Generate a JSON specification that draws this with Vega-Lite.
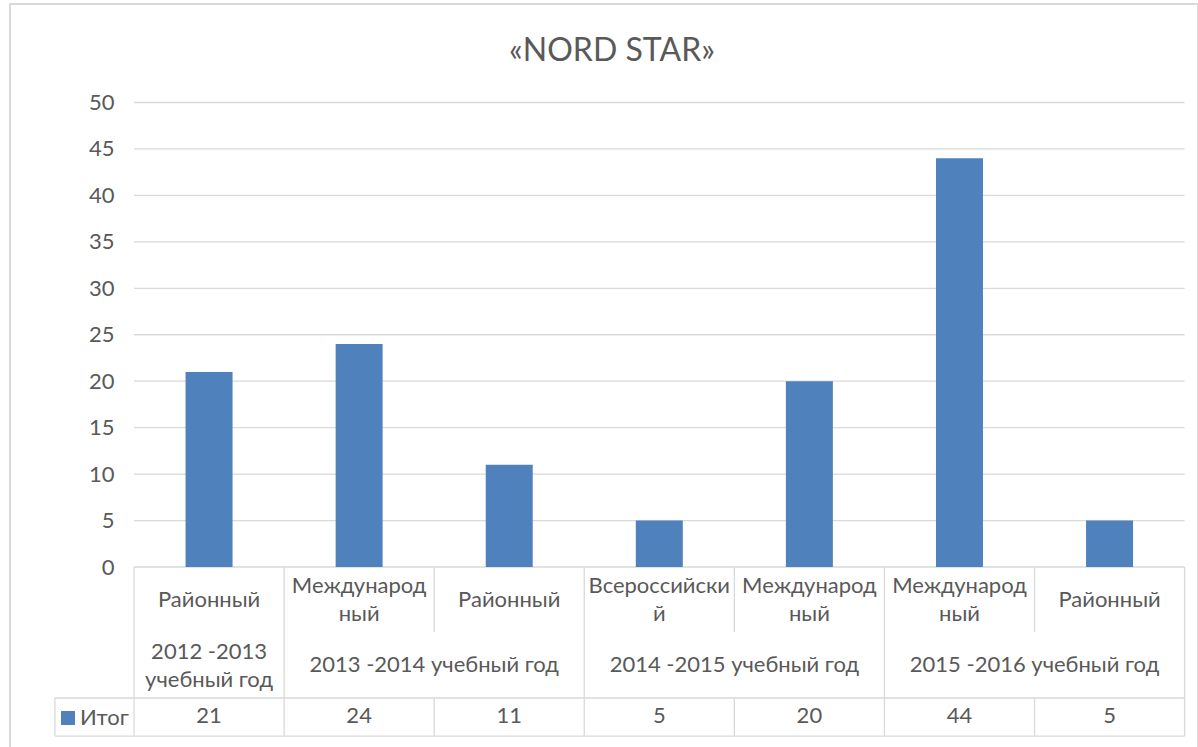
{
  "$schema": "https://vega.github.io/schema/vega-lite/v6.json",
  "width": 1188,
  "height": 745,
  "autosize": {"type": "none"},
  "padding": {"left": 10, "top": 4, "right": 0, "bottom": 0},
  "background": "#ffffff",
  "config": {
    "view": {"stroke": "#d9d9d9", "strokeWidth": 2}
  },
  "title": {
    "text": "«NORD STAR»",
    "font": "Lato",
    "fontSize": 32,
    "fontWeight": "normal",
    "color": "#595959",
    "anchor": "middle",
    "frame": "group",
    "baseline": "middle",
    "offset": -79,
    "dx": 8
  },
  "datasets": {
    "main": [
      {"pos": 1, "cat": "Районный", "value": 21, "year": "2012 -2013\nучебный год", "series": "Итог"},
      {"pos": 2, "cat": "Международ\nный", "value": 24, "year": "2013 -2014 учебный год", "series": "Итог"},
      {"pos": 3, "cat": "Районный", "value": 11, "year": "2013 -2014 учебный год", "series": "Итог"},
      {"pos": 4, "cat": "Всероссийски\nй", "value": 5, "year": "2014 -2015 учебный год", "series": "Итог"},
      {"pos": 5, "cat": "Международ\nный", "value": 20, "year": "2014 -2015 учебный год", "series": "Итог"},
      {"pos": 6, "cat": "Международ\nный", "value": 44, "year": "2015 -2016 учебный год", "series": "Итог"},
      {"pos": 7, "cat": "Районный", "value": 5, "year": "2015 -2016 учебный год", "series": "Итог"}
    ],
    "lines": [
      {"x": 0.5, "x2": 7.5, "y": 5, "y2": 5},
      {"x": 0.5, "x2": 7.5, "y": 10, "y2": 10},
      {"x": 0.5, "x2": 7.5, "y": 15, "y2": 15},
      {"x": 0.5, "x2": 7.5, "y": 20, "y2": 20},
      {"x": 0.5, "x2": 7.5, "y": 25, "y2": 25},
      {"x": 0.5, "x2": 7.5, "y": 30, "y2": 30},
      {"x": 0.5, "x2": 7.5, "y": 35, "y2": 35},
      {"x": 0.5, "x2": 7.5, "y": 40, "y2": 40},
      {"x": 0.5, "x2": 7.5, "y": 45, "y2": 45},
      {"x": 0.5, "x2": 7.5, "y": 50, "y2": 50},
      {"x": 0.5, "x2": 7.5, "y": 0, "y2": 0},
      {"x": -0.027, "x2": 7.5, "y": -14.1, "y2": -14.1},
      {"x": -0.027, "x2": 7.5, "y": -18.2, "y2": -18.2},
      {"x": -0.027, "x2": -0.027, "y": -14.1, "y2": -18.2},
      {"x": 0.5, "x2": 0.5, "y": 0, "y2": -18.2},
      {"x": 1.5, "x2": 1.5, "y": 0, "y2": -18.2},
      {"x": 3.5, "x2": 3.5, "y": 0, "y2": -18.2},
      {"x": 5.5, "x2": 5.5, "y": 0, "y2": -18.2},
      {"x": 7.5, "x2": 7.5, "y": 0, "y2": -18.2},
      {"x": 2.5, "x2": 2.5, "y": 0, "y2": -7.0},
      {"x": 4.5, "x2": 4.5, "y": 0, "y2": -7.0},
      {"x": 6.5, "x2": 6.5, "y": 0, "y2": -7.0},
      {"x": 2.5, "x2": 2.5, "y": -14.1, "y2": -18.2},
      {"x": 4.5, "x2": 4.5, "y": -14.1, "y2": -18.2},
      {"x": 6.5, "x2": 6.5, "y": -14.1, "y2": -18.2}
    ]
  },
  "layer": [
    {
      "data": {"name": "lines"},
      "mark": {"type": "rule", "color": "#d9d9d9", "strokeWidth": 1.3},
      "encoding": {
        "x": {"field": "x", "type": "quantitative", "scale": {"domain": [-0.293, 7.556], "nice": false, "zero": false}, "axis": null},
        "x2": {"field": "x2"},
        "y": {"field": "y", "type": "quantitative", "scale": {"domain": [-19.59, 60.6], "nice": false, "zero": false},
          "axis": {"values": [0, 5, 10, 15, 20, 25, 30, 35, 40, 45, 50], "grid": false, "domain": false, "ticks": false, "title": null,
            "labelFont": "Lato", "labelFontSize": 22, "labelColor": "#595959", "labelPadding": 6, "offset": -110}},
        "y2": {"field": "y2"}
      }
    },
    {
      "data": {"name": "main"},
      "mark": {"type": "bar", "width": 47},
      "encoding": {
        "x": {"field": "pos", "type": "quantitative"},
        "y": {"field": "value", "type": "quantitative"},
        "color": {"field": "series", "type": "nominal", "scale": {"range": ["#4F81BD"]},
          "legend": {"orient": "none", "legendX": 47, "legendY": 703, "title": null, "symbolType": "square", "symbolSize": 196,
            "symbolStrokeWidth": 0, "labelFont": "Lato", "labelFontSize": 22, "labelColor": "#595959", "padding": 0, "labelOffset": 1}}
      }
    },
    {
      "data": {"name": "main"},
      "transform": [{"filter": "indexof(datum.cat, '\\n') < 0"}],
      "mark": {"type": "text", "font": "Lato", "fontSize": 22, "color": "#595959", "baseline": "middle", "align": "center"},
      "encoding": {"x": {"field": "pos", "type": "quantitative"}, "y": {"datum": -3.55}, "text": {"field": "cat", "type": "nominal"}}
    },
    {
      "data": {"name": "main"},
      "transform": [{"filter": "indexof(datum.cat, '\\n') >= 0"}],
      "mark": {"type": "text", "font": "Lato", "fontSize": 22, "color": "#595959", "lineBreak": "\n", "lineHeight": 28, "baseline": "middle", "align": "center"},
      "encoding": {"x": {"field": "pos", "type": "quantitative"}, "y": {"datum": -2.05}, "text": {"field": "cat", "type": "nominal"}}
    },
    {
      "data": {"name": "main"},
      "transform": [
        {"aggregate": [{"op": "mean", "field": "pos", "as": "center"}], "groupby": ["year"]},
        {"filter": "indexof(datum.year, '\\n') < 0"}
      ],
      "mark": {"type": "text", "font": "Lato", "fontSize": 22, "color": "#595959", "baseline": "middle", "align": "center"},
      "encoding": {"x": {"field": "center", "type": "quantitative"}, "y": {"datum": -10.55}, "text": {"field": "year", "type": "nominal"}}
    },
    {
      "data": {"name": "main"},
      "transform": [
        {"aggregate": [{"op": "mean", "field": "pos", "as": "center"}], "groupby": ["year"]},
        {"filter": "indexof(datum.year, '\\n') >= 0"}
      ],
      "mark": {"type": "text", "font": "Lato", "fontSize": 22, "color": "#595959", "lineBreak": "\n", "lineHeight": 28, "baseline": "middle", "align": "center"},
      "encoding": {"x": {"field": "center", "type": "quantitative"}, "y": {"datum": -9.15}, "text": {"field": "year", "type": "nominal"}}
    },
    {
      "data": {"name": "main"},
      "mark": {"type": "text", "font": "Lato", "fontSize": 22, "color": "#595959", "baseline": "middle", "align": "center"},
      "encoding": {"x": {"field": "pos", "type": "quantitative"}, "y": {"datum": -16.0}, "text": {"field": "value", "type": "quantitative"}}
    }
  ]
}
